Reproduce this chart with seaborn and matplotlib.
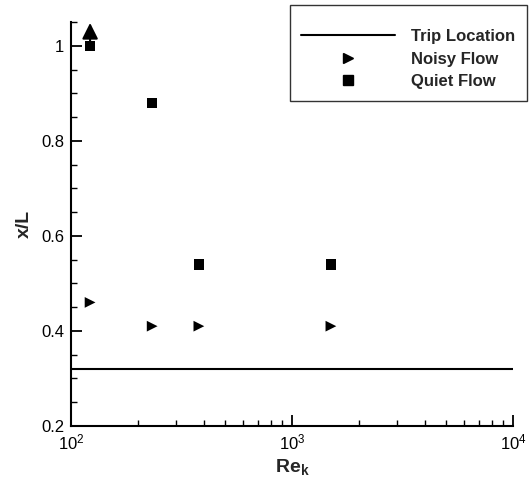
import matplotlib
matplotlib.use("Agg")
import matplotlib.pyplot as plt
import matplotlib.ticker as mticker
from matplotlib.lines import Line2D
import seaborn as sns
import pandas as pd
import numpy as np

# ---- data ----
noisy_rek = [122, 233, 379, 1500]
noisy_xl = [0.46, 0.41, 0.41, 0.41]
quiet_rek = [122, 233, 379, 1500]
quiet_xl = [1.00, 0.88, 0.54, 0.54]
trip_rek = [100, 10000]
trip_xl = [0.32, 0.32]
arrow_rek = 122
arrow_from = 1.00
arrow_to = 1.048

sns.set_theme(style="ticks")
plt.rcParams['font.family'] = ['Liberation Sans', 'DejaVu Sans']
plt.rcParams['mathtext.fontset'] = 'custom'
plt.rcParams['mathtext.rm'] = 'Liberation Sans'
plt.rcParams['mathtext.it'] = 'Liberation Sans:italic'
plt.rcParams['mathtext.bf'] = 'Liberation Sans:bold'

fig = plt.figure(figsize=(5.32, 4.83), dpi=100)
ax = fig.add_axes([71/532, 1-426/483, (513-71)/532, (426-22)/483])

df_noisy = pd.DataFrame({"Rek": noisy_rek, "xL": noisy_xl})
df_quiet = pd.DataFrame({"Rek": quiet_rek, "xL": quiet_xl})
df_trip = pd.DataFrame({"Rek": trip_rek, "xL": trip_xl})

sns.lineplot(data=df_trip, x="Rek", y="xL", ax=ax, color="black", linewidth=1.5)
sns.scatterplot(data=df_noisy, x="Rek", y="xL", ax=ax, marker=">", s=60,
                color="black", edgecolor="none", linewidth=0)
sns.scatterplot(data=df_quiet, x="Rek", y="xL", ax=ax, marker="s", s=55,
                color="black", edgecolor="none", linewidth=0)

ax.annotate("", xy=(arrow_rek, arrow_to), xytext=(arrow_rek, arrow_from),
            xycoords="data", textcoords="data",
            arrowprops=dict(arrowstyle="-|>,head_length=0.8,head_width=0.4",
                            color="black", lw=1.5, shrinkA=0, shrinkB=0),
            annotation_clip=False)

ax.set_xscale("log")
ax.set_xlim(100, 10000)
ax.set_ylim(0.2, 1.05)
ax.set_yticks([0.2, 0.4, 0.6, 0.8, 1.0])
ax.set_yticklabels(["0.2", "0.4", "0.6", "0.8", "1"])
ax.yaxis.set_minor_locator(mticker.MultipleLocator(0.05))
ax.xaxis.set_major_locator(mticker.LogLocator(base=10, numticks=10))
ax.xaxis.set_minor_locator(mticker.LogLocator(base=10, subs=np.arange(2, 10), numticks=20))
ax.xaxis.set_minor_formatter(mticker.NullFormatter())

for s in ["top", "right"]:
    ax.spines[s].set_visible(False)
for s in ["left", "bottom"]:
    ax.spines[s].set_linewidth(1.5)
    ax.spines[s].set_color("black")

ax.tick_params(axis="both", which="major", direction="in", length=8, width=1.3,
               labelsize=12, colors="black", pad=5)
ax.tick_params(axis="both", which="minor", direction="in", length=4, width=1.0,
               colors="black")

ax.set_xlabel(r"$\mathbf{Re_k}$", fontsize=14, labelpad=3)
ax.set_ylabel("x/L", fontsize=14, fontweight="bold", labelpad=6)

handles = [
    Line2D([], [], color="black", linewidth=1.5),
    Line2D([], [], color="black", marker=">", linestyle="none", markersize=7.5),
    Line2D([], [], color="black", marker="s", linestyle="none", markersize=7),
]
labels = ["Trip Location", "Noisy Flow", "Quiet Flow"]
leg = fig.legend(handles, labels, loc="upper right",
                 bbox_to_anchor=(527/532, 1-5/483), bbox_transform=fig.transFigure,
                 prop={"family": "Liberation Sans", "weight": "bold", "size": 12},
                 frameon=True, fancybox=False, edgecolor="black",
                 handlelength=5.6, handletextpad=1.0, labelspacing=0.45,
                 borderpad=0.7, title=" ", title_fontsize=4, borderaxespad=0)
leg.get_frame().set_linewidth(1.0)

fig.savefig("out.png", dpi=100)
